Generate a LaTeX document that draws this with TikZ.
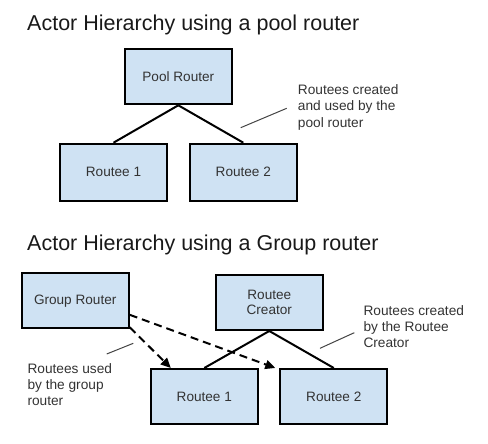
\documentclass[tikz,border=0pt]{standalone}
\usepackage{fontspec}
\setmainfont{Liberation Sans}
\usetikzlibrary{arrows.meta}
\definecolor{boxfill}{HTML}{CFE2F3}
\definecolor{txt}{HTML}{333333}
\definecolor{note}{HTML}{444444}
\tikzset{
  actor/.style={draw=black, line width=2pt, fill=boxfill, minimum width=107pt, minimum height=55pt,
    inner sep=0pt, align=center, text=txt, font=\fontsize{13.6}{15.5}\selectfont},
  title/.style={anchor=base west, inner sep=0pt, font=\fontsize{21.5}{24}\selectfont, text=black!90},
  notetext/.style={anchor=north west, inner sep=0pt, align=left, text=txt, font=\fontsize{13.7}{16.2}\selectfont},
  link/.style={line width=2pt, black},
  uses/.style={line width=2pt, black, dash pattern=on 8pt off 5pt, -{Triangle[length=10pt,width=9pt]}},
  pointer/.style={line width=1pt, note}
}
\begin{document}
\begin{tikzpicture}[x=1pt, y=-1pt]
\useasboundingbox (0,0) rectangle (488,444);
% top diagram
\node[title] (t1) at (27,30.5) {Actor Hierarchy using a pool router};
\node[actor] (pool) at (178.3,76.8) {Pool Router};
\node[actor, minimum height=57pt] (pr1) at (113.5,172.2) {Routee 1};
\node[actor, minimum height=57pt] (pr2) at (243.3,172.2) {Routee 2};
\draw[link] (pool.south) -- (pr1.north);
\draw[link] (pool.south) -- (pr2.north);
\node[notetext] (n1) at (297.7,84.6) {Routees created\\and used by the\\pool router};
\coordinate (n1a) at (286.7,108.3);
\coordinate (n1b) at (240.7,127.7);
\draw[pointer] (n1a) -- (n1b);
% bottom diagram
\node[title] (t2) at (27,250.7) {Actor Hierarchy using a Group router};
\node[actor] (group) at (75.2,300.8) {Group Router};
\node[actor] (creator) at (269.3,302.5) {Routee\\Creator};
\node[actor] (gr1) at (204.3,396.5) {Routee 1};
\node[actor] (gr2) at (333.8,396.5) {Routee 2};
\draw[link] (creator.south) -- (gr1.north);
\draw[link] (creator.south) -- (gr2.north);
\draw[uses] ([yshift=2pt]group.south east) -- ([xshift=21pt]gr1.north west);
\draw[uses] ([yshift=-14pt]group.east) -- ([xshift=-4pt]gr2.north west);
\node[notetext] (n2) at (27.3,363.4) {Routees used\\by the group\\router};
\coordinate (n2a) at (133.3,343.3);
\coordinate (n2b) at (106.7,354);
\draw[pointer] (n2a) -- (n2b);
\node[notetext] (n3) at (363.3,305.2) {Routees created\\by the Routee\\Creator};
\coordinate (n3a) at (354.3,332.7);
\coordinate (n3b) at (320,348.3);
\draw[pointer] (n3a) -- (n3b);
\end{tikzpicture}
\end{document}
